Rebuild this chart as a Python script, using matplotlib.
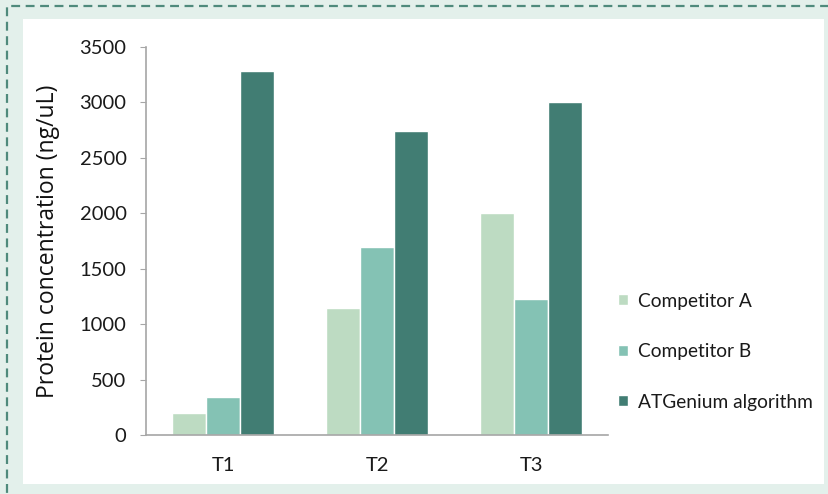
import numpy as np
import matplotlib.pyplot as plt
from matplotlib.patches import Rectangle

groups = ['T1', 'T2', 'T3']
comp_a = [200, 1150, 2000]
comp_b = [340, 1700, 1230]
atgenium = [3280, 2740, 3000]
series = ['Competitor A', 'Competitor B', 'ATGenium algorithm']
colors = ['#bddbc2', '#84c2b4', '#417d73']

W, H = 829, 494
fig = plt.figure(figsize=(W/100, H/100), dpi=100)
fig.patch.set_facecolor('#e3f0eb')

# white panel and dashed frame
fig.patches.append(Rectangle((23/W, 1-484/H), (824-23)/W, (484-19)/H,
                             transform=fig.transFigure, facecolor='white',
                             edgecolor='none', zorder=-3))
fig.patches.append(Rectangle((7/W, -0.05), 1.05, 1-6/H+0.05,
                             transform=fig.transFigure, facecolor='none',
                             edgecolor='#4f8a7c', lw=1.6, ls=(0, (4, 2.5)),
                             zorder=-2))

ax = fig.add_axes([146/W, 59/H, (608-146)/W, (435-47)/H])
ax.set_facecolor('none')

x = np.arange(len(groups))
bw = 0.22
for i, (vals, lab) in enumerate(zip([comp_a, comp_b, atgenium], series)):
    ax.bar(x + (i-1)*bw, vals, bw, color=colors[i], edgecolor='white',
           linewidth=1, label=lab)

ax.set_xlim(-0.5, 2.5)
ax.set_ylim(0, 3500)
ax.set_yticks(np.arange(0, 3501, 500))
ax.set_xticks(x)
ax.set_xticklabels(groups)
for s in ['top', 'right']:
    ax.spines[s].set_visible(False)
for s in ['left', 'bottom']:
    ax.spines[s].set_color('#a6a6a6')
    ax.spines[s].set_linewidth(1.2)
ax.tick_params(axis='y', colors='#a6a6a6', labelcolor='#1a1a1a',
               labelsize=14.5, length=4, pad=10)
ax.tick_params(axis='x', length=0, labelcolor='#1a1a1a', labelsize=14.5, pad=16)
for t in ax.get_xticklabels() + ax.get_yticklabels():
    t.set_family('Lato')
ax.set_ylabel('Protein concentration (ng/uL)', fontsize=16.5,
              family='Open Sans', color='#111111', labelpad=14)

leg = ax.legend(loc='center left', bbox_to_anchor=(0.985, 0.215), frameon=False,
                handlelength=0.5, handleheight=0.5, handletextpad=0.55,
                labelspacing=1.75, prop={'family': 'Lato', 'size': 13.8})
for t in leg.get_texts():
    t.set_color('#1a1a1a')

fig.savefig('out.png', dpi=100, facecolor=fig.get_facecolor())
